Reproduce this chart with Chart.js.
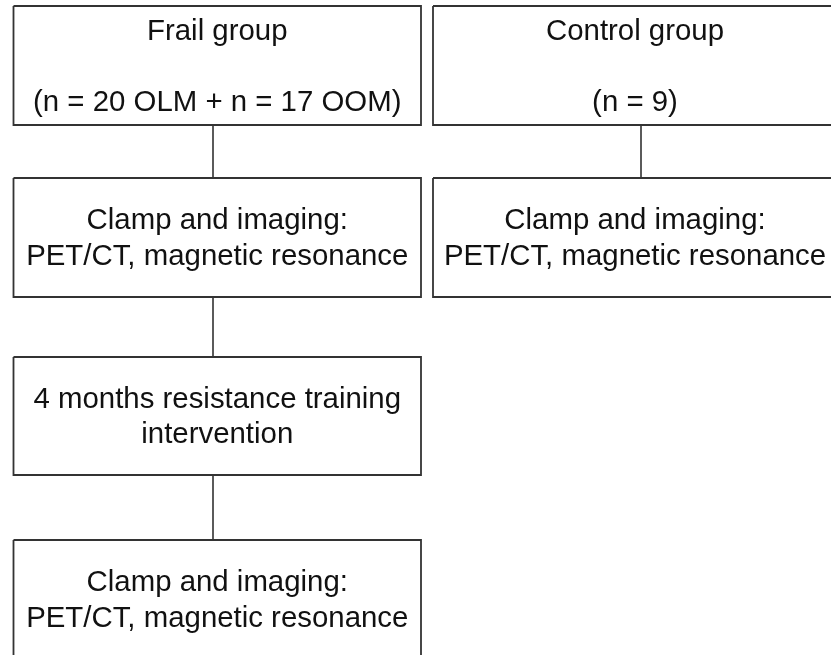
<!DOCTYPE html>
<html>
<head>
<meta charset="utf-8">
<script src="https://cdn.jsdelivr.net/npm/chart.js@4/dist/chart.umd.min.js"></script>
<style>
  html, body { margin: 0; padding: 0; background: #fff; }
  #flow { display: block; }
</style>
</head>
<body>
<canvas id="flow" width="831" height="655"></canvas>
<script>
// Flowchart boxes (data units = a 831 x 655 grid)
const boxText = [
  ['Frail group', '', '(n = 20 OLM + n = 17 OOM)'],
  ['Control group', '', '(n = 9)'],
  ['Clamp and imaging:', 'PET/CT, magnetic resonance'],
  ['Clamp and imaging:', 'PET/CT, magnetic resonance'],
  ['4 months resistance training', 'intervention'],
  ['Clamp and imaging:', 'PET/CT, magnetic resonance']
];
const boxLeft   = [13.5, 433, 13.5, 433, 13.5, 13.5];
const boxRight  = [421, 837, 421, 837, 421, 421];
const boxTop    = [6, 6, 178, 178, 357, 540];
const boxBottom = [125, 125, 297, 297, 475, 659];

// Connectors: from box -> to box, at x
const connFrom = [0, 2, 4, 1];
const connTo   = [2, 4, 5, 3];
const connX    = [213, 213, 213, 641];

const lineColor = '#333333';
const textColor = '#111111';
const fontSize = 29.4;
const lineH = 35.5;

// Datasets
const datasets = [];
boxText.forEach((_, i) => {
  datasets.push({
    data: [
      { x: boxLeft[i], y: boxTop[i] },
      { x: boxRight[i], y: boxTop[i] },
      { x: boxRight[i], y: boxBottom[i] },
      { x: boxLeft[i], y: boxBottom[i] },
      { x: boxLeft[i], y: boxTop[i] }
    ],
    showLine: true,
    borderColor: lineColor,
    borderWidth: 1.8,
    pointRadius: 0,
    fill: false,
    tension: 0
  });
});
connFrom.forEach((f, i) => {
  datasets.push({
    data: [
      { x: connX[i], y: boxBottom[f] },
      { x: connX[i], y: boxTop[connTo[i]] }
    ],
    showLine: true,
    borderColor: lineColor,
    borderWidth: 1.6,
    pointRadius: 0,
    fill: false
  });
});

// Box labels
const boxLabels = {
  id: 'boxLabels',
  afterDatasetsDraw(chart) {
    const { ctx, scales: { x, y } } = chart;
    ctx.save();
    ctx.font = `${fontSize}px "Liberation Sans", Arial, sans-serif`;
    ctx.fillStyle = textColor;
    ctx.textAlign = 'center';
    ctx.textBaseline = 'alphabetic';
    const capH = fontSize * 0.716;
    boxText.forEach((lines, i) => {
      const cx = (x.getPixelForValue(boxLeft[i]) + x.getPixelForValue(boxRight[i])) / 2;
      const cy = (y.getPixelForValue(boxTop[i]) + y.getPixelForValue(boxBottom[i])) / 2;
      const n = lines.length;
      lines.forEach((t, k) => {
        if (!t) return;
        const by = cy + (k - (n - 1) / 2) * lineH + capH / 2 - 1;
        ctx.fillText(t, cx, by);
      });
    });
    ctx.restore();
  }
};

new Chart(document.getElementById('flow'), {
  type: 'scatter',
  data: { datasets },
  options: {
    responsive: false,
    animation: false,
    layout: { padding: 0 },
    plugins: {
      legend: { display: false },
      tooltip: { enabled: false }
    },
    scales: {
      x: { type: 'linear', min: 0, max: 831, display: false },
      y: { type: 'linear', min: 0, max: 655, reverse: true, display: false }
    }
  },
  plugins: [boxLabels]
});
</script>
</body>
</html>
